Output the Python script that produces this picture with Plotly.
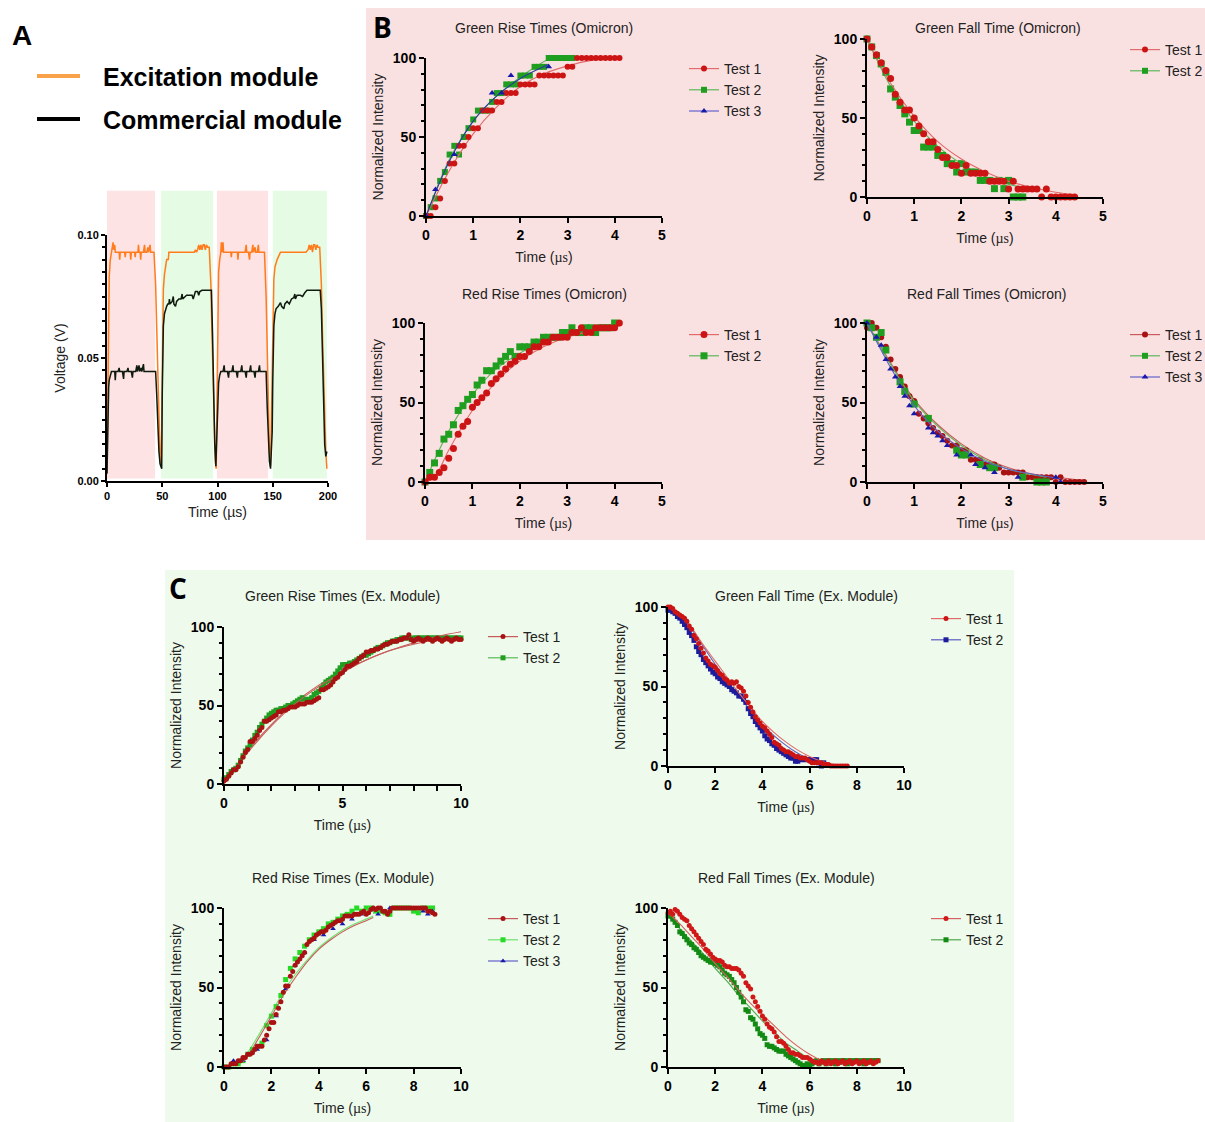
import plotly.graph_objects as go

W, H = 1205, 1122

# ---------------- Panel A : voltage traces (time in µs, voltage in V) ----------------
exc_points = [
    (0, 0.003), (0.5, 0.03), (1, 0.055), (1.5, 0.072), (2, 0.083), (3, 0.09), (4, 0.093), (5, 0.094),
    (5.5, 0.097), (6, 0.094), (7, 0.096), (7.5, 0.093), (9, 0.093), (11, 0.093), (11.5, 0.090), (12, 0.093),
    (14, 0.093), (16, 0.093), (16.5, 0.091), (17, 0.093), (19, 0.093), (21, 0.093), (21.5, 0.090), (22, 0.093),
    (24, 0.093), (25, 0.093), (25.5, 0.091), (26, 0.093), (28, 0.093), (28.5, 0.096), (29, 0.093), (30, 0.093),
    (30.5, 0.090), (31, 0.093), (33, 0.093), (34, 0.096), (34.5, 0.093), (36, 0.093), (37, 0.095), (37.5, 0.093),
    (39, 0.096), (39.5, 0.093), (41, 0.093), (42.5, 0.093), (44, 0.08), (45, 0.06), (46, 0.04), (47, 0.02),
    (48, 0.009), (49, 0.006),
    (49.5, 0.03), (50, 0.055), (50.5, 0.07), (51, 0.078), (52, 0.084), (53, 0.088), (54, 0.09), (55.5, 0.09),
    (56, 0.093), (58, 0.093), (60, 0.093), (63, 0.093), (66, 0.093), (70, 0.093), (73, 0.093), (76, 0.093),
    (79, 0.093), (80, 0.094), (81, 0.093), (82, 0.094), (83, 0.096), (84, 0.094), (85, 0.096), (86, 0.094),
    (87, 0.096), (88, 0.096), (89, 0.094), (90, 0.096), (91, 0.095), (92.5, 0.095), (94, 0.08), (95, 0.06),
    (96, 0.04), (97, 0.02), (98, 0.008), (98.8, 0.005),
    (99.3, 0.03), (100, 0.06), (100.5, 0.075), (101, 0.085), (102, 0.09), (103, 0.093), (103.5, 0.097),
    (104, 0.093), (105, 0.097), (105.5, 0.093), (108, 0.093), (110, 0.093), (112, 0.093), (112.5, 0.091),
    (113, 0.093), (116, 0.093), (118, 0.093), (118.5, 0.090), (119, 0.093), (122, 0.093), (125, 0.093),
    (126, 0.096), (126.5, 0.093), (128, 0.093), (129, 0.090), (129.5, 0.093), (131, 0.093), (132, 0.096),
    (132.5, 0.093), (134, 0.095), (134.5, 0.093), (136, 0.093), (137, 0.096), (137.5, 0.093), (140, 0.093),
    (142.5, 0.093), (144, 0.075), (145, 0.05), (146, 0.03), (147, 0.012), (148, 0.006),
    (149, 0.03), (150, 0.06), (150.5, 0.075), (151, 0.082), (152, 0.087), (153, 0.089), (154, 0.09),
    (156, 0.092), (157, 0.093), (160, 0.093), (164, 0.093), (168, 0.093), (172, 0.093), (176, 0.093),
    (180, 0.093), (182, 0.094), (183, 0.096), (184, 0.094), (185, 0.096), (186, 0.093), (187, 0.096),
    (188, 0.096), (189, 0.094), (190, 0.096), (191, 0.095), (192.5, 0.095), (194, 0.08), (195, 0.06),
    (196, 0.04), (197, 0.025), (198, 0.012), (199, 0.005),
]
com_points = [
    (0, 0.003), (0.5, 0.02), (1, 0.032), (1.5, 0.038), (2, 0.041), (3, 0.043), (4, 0.0445), (6, 0.0445),
    (7, 0.0445), (7.5, 0.041), (8, 0.0445), (10, 0.0445), (11, 0.046), (11.5, 0.0445), (14, 0.0445),
    (15, 0.0415), (15.5, 0.0445), (18, 0.0445), (19, 0.046), (19.5, 0.0445), (22, 0.0445), (23, 0.042),
    (23.5, 0.0445), (26, 0.0445), (27, 0.047), (27.5, 0.0445), (29, 0.047), (29.5, 0.0445), (31, 0.046),
    (31.5, 0.0445), (33, 0.0475), (33.5, 0.0445), (36, 0.0445), (38, 0.0445), (40, 0.0445), (42, 0.0445),
    (44, 0.0445), (45, 0.035), (46, 0.022), (47, 0.012), (48, 0.007), (49.5, 0.005),
    (50, 0.035), (50.5, 0.055), (51, 0.063), (52, 0.068), (53, 0.070), (54, 0.071), (55, 0.072), (56, 0.072),
    (56.5, 0.074), (57, 0.072), (59, 0.073), (60, 0.075), (60.5, 0.072), (62, 0.071), (63, 0.073), (65, 0.074),
    (67, 0.074), (68, 0.076), (68.5, 0.074), (70, 0.0745), (72, 0.0755), (75, 0.0755), (77, 0.0755),
    (78, 0.074), (79, 0.0755), (80, 0.077), (82, 0.077), (83, 0.0755), (84, 0.077), (86, 0.0775),
    (88, 0.0775), (90, 0.0775), (92, 0.0775), (94.5, 0.0775), (95.5, 0.06), (96.5, 0.035), (97.5, 0.015),
    (98.5, 0.006),
    (99.5, 0.02), (100, 0.032), (101, 0.04), (102, 0.043), (103, 0.0445), (105, 0.0445), (106, 0.047),
    (106.5, 0.0445), (109, 0.0445), (110, 0.042), (110.5, 0.0445), (113, 0.0445), (114, 0.047),
    (114.5, 0.0445), (117, 0.0445), (118, 0.042), (118.5, 0.0445), (121, 0.0445), (122, 0.047),
    (122.5, 0.0445), (125, 0.0445), (126, 0.042), (126.5, 0.0445), (129, 0.0445), (130, 0.047),
    (130.5, 0.0445), (133, 0.0445), (134, 0.042), (134.5, 0.0445), (137, 0.0445), (138, 0.047),
    (138.5, 0.0445), (141, 0.0445), (144, 0.0445), (145, 0.03), (146, 0.015), (147, 0.008), (148, 0.005),
    (149.5, 0.02), (150, 0.04), (150.5, 0.055), (151, 0.063), (152, 0.068), (153, 0.070), (155, 0.071),
    (157, 0.0725), (158, 0.071), (160, 0.070), (161, 0.072), (163, 0.073), (165, 0.072), (167, 0.074),
    (169, 0.0745), (170, 0.076), (170.5, 0.074), (172, 0.0755), (175, 0.0755), (177, 0.075), (179, 0.0765),
    (181, 0.0775), (183, 0.0775), (185, 0.0775), (187, 0.0775), (189, 0.0775), (191, 0.0775), (193, 0.0775),
    (194, 0.07), (195, 0.05), (196, 0.03), (197, 0.015), (198, 0.01), (199, 0.012),
]
band_start = [-2, 49, 99.5, 150]
band_end = [43.5, 96, 145.7, 199]
band_colour = ["#fde3e3", "#e6fbe4", "#fde3e3", "#e6fbe4"]
band_top_v = 0.118

# ---------------- Panel B : Omicron (time in µs, normalized intensity) ----------------
STEP = 0.1
b1_t1 = [0, 0, 5.6, 11.1, 22.2, 33.3, 33.3, 44.4, 44.4, 50, 55.6, 55.6, 66.7, 66.7, 66.7, 72.2, 72.2,
         77.8, 77.8, 77.8, 83.3, 83.3, 83.3, 83.3, 88.9, 88.9, 88.9, 88.9, 88.9, 88.9, 94.4, 94.4,
         100, 100, 100, 100, 100, 100, 100, 100, 100, 100]
b1_t2 = [0, 5.6, 11.1, 22.2, 27.8, 38.9, 44.4, 38.9, 50, 55.6, 61.1, 66.7, 66.7, 66.7, 72.2, 77.8, 77.8,
         83.3, 83.3, 83.3, 88.9, 88.9, 88.9, 94.4, 94.4, 94.4, 100, 100, 100, 100, 100, 100]
b1_t3_x = [0, 0.2, 0.6, 1.4, 1.6, 1.8, 2.6]
b1_t3_y = [0, 16.7, 38.9, 77.8, 77.8, 88.9, 94.4]
b1_fit1_x = [0, 0.5, 1.0, 1.5, 2.0, 2.5, 3.0, 3.5, 4.1]
b1_fit1_y = [0, 29, 52, 69, 82, 90, 95, 98.5, 100]
b1_fit2_x = [0, 0.5, 1.0, 1.5, 2.0, 2.3, 2.6, 3.1]
b1_fit2_y = [0, 36, 60, 76, 88, 94, 99, 100]
b1_fit3_x = [0, 0.5, 1.0, 1.5, 2.0, 2.6]
b1_fit3_y = [0, 35, 60, 76, 87, 96]

b2_t1 = [100, 95, 90, 85, 80, 75, 65, 60, 55, 55, 50, 45, 40, 35, 35, 30, 25, 25, 20, 20, 15, 20, 15, 15,
         15, 15, 10, 10, 10, 10, 5, 10, 5, 5, 5, 5, 5, 0, 5, 0, 0, 0, 0, 0, 0]
b2_t2 = [100, 95, 89.5, 84.2, 78.9, 68.4, 63.2, 57.9, 52.6, 47.4, 42.1, 42.1, 31.6, 31.6, 31.6, 26.3, 26.3,
         21.1, 21.1, 15.8, 21.1, 15.8, 15.8, 15.8, 10.5, 10.5, 10.5, 5.3, 10.5, 5.3, 10.5, 0, 0, 0]
b2_fit1_x = [0, 0.5, 1.0, 1.5, 2.0, 2.5, 3.0, 3.5, 4.0, 4.4]
b2_fit1_y = [100, 72, 51, 35, 24, 16, 10, 6, 3, 1.5]
b2_fit2_x = [0, 0.5, 1.0, 1.5, 2.0, 2.5, 3.0, 3.3]
b2_fit2_y = [100, 70, 48, 32, 21, 13, 8, 6]

b3_t1 = [0, 3, 3, 6, 9, 15, 21, 30, 35, 38, 47, 50, 53, 56, 62, 65, 68, 71, 74, 76, 79, 79, 82, 85, 85, 88,
         88, 91, 91, 91, 91, 94, 94, 97, 94, 94, 97, 97, 97, 97, 97, 100]
b3_t2 = [0, 6, 12, 18, 27, 30, 36, 45, 48, 52, 55, 61, 64, 70, 70, 73, 76, 79, 82, 79, 85, 85, 85, 88, 88,
         91, 91, 91, 91, 94, 94, 97, 94, 94, 97, 97, 94, 97, 97, 97, 100]
b3_fit1_x = [0, 0.2, 0.5, 1.0, 1.5, 2.0, 2.5, 3.0, 3.5, 4.1]
b3_fit1_y = [0, 3, 20, 45, 63, 76, 85, 91, 95, 98]
b3_fit2_x = [0, 0.5, 1.0, 1.5, 2.0, 2.5, 3.0, 3.5, 4.0]
b3_fit2_y = [0, 32, 55, 71, 81, 88, 93, 96, 98]

b4_t1 = [97, 100, 97, 91, 85, 77, 71, 66, 60, 54, 51, 43, 40, 37, 34, 31, 29, 26, 23, 23, 20, 20, 14, 14, 14,
         11, 11, 11, 9, 6, 6, 6, 6, 6, 3, 3, 3, 3, 3, 3, 0, 3, 0, 0, 0, 0, 0]
b4_t2_x = [0, 0.1, 0.2, 0.3, 0.4, 0.7, 0.8, 1.0, 1.3, 1.9, 2.0, 2.1, 2.4, 2.6, 2.7, 3.3, 3.6, 3.7, 3.8]
b4_t2_y = [100, 97, 91, 94, 83, 63, 57, 49, 40, 20, 17, 17, 11, 9, 9, 3, 0, 0, 0]
b4_t3_x = [0, 0.2, 0.3, 0.4, 0.5, 0.6, 0.7, 0.8, 0.9, 1.0, 1.3, 1.4, 1.5, 1.6, 1.7, 1.9, 2.2, 2.3, 2.5,
           2.7, 3.2, 4.0, 4.1]
b4_t3_y = [100, 91, 86, 77, 71, 66, 60, 54, 48, 43, 34, 31, 29, 26, 23, 17, 17, 11, 9, 6, 3, 3, 0]
b4_fit1_x = [0, 0.5, 1.0, 1.5, 2.0, 2.5, 3.0, 3.5, 4.0, 4.6]
b4_fit1_y = [100, 75, 52, 36, 24, 15, 9, 5, 3, 1]
b4_fit2_x = [0, 0.5, 1.0, 1.5, 2.0, 2.5, 3.0, 3.8]
b4_fit2_y = [100, 74, 51, 35, 23, 14, 8, 3]
b4_fit3_x = [0, 0.5, 1.0, 1.5, 2.0, 2.5, 3.0, 3.5, 4.1]
b4_fit3_y = [100, 72, 48, 32, 21, 13, 8, 5, 2]

# ---------------- Panel C : Excitation module ----------------
c1_t1 = [2, 3, 5, 7, 9, 9, 11, 14, 17, 20, 22, 27, 27, 29, 31, 34, 36, 40, 40, 41,
         42, 43, 44, 46, 46, 47, 47, 48, 49, 49, 49, 50, 51, 51, 51, 52, 52, 52, 53, 54,
         55, 60, 60, 61, 62, 63, 65, 67, 68, 70, 71, 73, 75, 75, 76, 77, 78, 80, 81, 82,
         84, 84, 85, 85, 86, 86, 87, 88, 89, 89, 90, 91, 91, 91, 92, 92, 93, 93, 95, 92,
         91, 92, 93, 92, 91, 92, 93, 92, 91, 92, 93, 92, 91, 92, 93, 92, 91, 92, 93, 92, 92]
c1_t2 = [3, 4, 6, 8, 9, 10, 12, 15, 18, 21, 23, 25, 28, 31, 33, 36, 38, 40, 42, 44,
         45, 46, 47, 47, 48, 48, 49, 50, 50, 51, 52, 53, 54, 55, 54, 53, 54, 55, 57, 58,
         59, 61, 63, 65, 66, 67, 68, 70, 72, 74, 76, 76, 76, 77, 77, 78, 79, 80, 81, 82,
         82, 83, 84, 85, 86, 87, 87, 88, 89, 90, 90, 91, 91, 92, 92, 93, 93, 93, 93, 92,
         93, 93, 93, 93, 93, 93, 93, 93, 93, 93, 93, 93, 93, 93, 93, 93, 93, 93, 93, 93, 93]
c1_fit1_x = [0, 1, 2, 3, 4, 5, 6, 7, 8, 9, 10]
c1_fit1_y = [0, 20, 37, 51, 62, 71, 79, 85, 90, 94, 97]
c1_fit2_x = [0, 1, 2, 3, 4, 5, 6, 7, 8, 9, 10]
c1_fit2_y = [0, 21, 38, 52, 63, 72, 79, 85, 89, 92, 94]

c2_t1 = [100, 100, 99, 97, 96, 95, 94, 93, 91, 88, 86, 82, 80, 77, 74, 71, 68, 66, 64, 63,
         62, 60, 58, 57, 55, 54, 52, 53, 52, 53, 50, 49, 47, 44, 40, 37, 34, 31, 29, 27,
         25, 24, 22, 20, 18, 15, 14, 13, 11, 10, 9, 9, 8, 7, 6, 6, 5, 5, 5, 4,
         3, 2, 2, 2, 2, 2, 1, 1, 1, 0, 0, 0, 0, 0, 0, 0, 0]
c2_t2 = [98, 98, 97, 96, 94, 93, 91, 89, 87, 84, 82, 79, 75, 72, 70, 67, 65, 63, 61, 59,
         58, 56, 55, 53, 52, 51, 50, 48, 47, 46, 44, 44, 42, 40, 36, 33, 31, 28, 26, 24,
         22, 19, 17, 16, 14, 13, 11, 10, 9, 8, 7, 6, 5, 5, 3, 3, 4, 4, 4, 4,
         4, 4, 4, 4, 2, 0, 2]
c2_fit1_x = [0, 0.5, 1, 1.5, 2, 2.5, 3, 3.5, 4, 4.5, 5, 5.5, 6, 6.5, 7, 7.6]
c2_fit1_y = [100, 96, 87, 76, 66, 56, 46, 37, 28, 21, 15, 10, 6, 3, 1, 0]
c2_fit2_x = [0, 0.5, 1, 1.5, 2, 2.5, 3, 3.5, 4, 4.5, 5, 5.5, 6, 6.6]
c2_fit2_y = [99, 95, 86, 75, 64, 54, 44, 35, 26, 19, 13, 8, 4, 1]

c3_t1 = [0, 0, 0, 2, 2, 2, 4, 4, 6, 6, 8, 8, 9, 11, 13, 13, 13, 17, 20, 24,
         28, 28, 33, 37, 41, 47, 51, 51, 57, 60, 64, 66, 68, 70, 72, 77, 79, 80, 81, 83,
         84, 85, 85, 86, 88, 89, 90, 91, 92, 92, 93, 95, 95, 95, 95, 96, 96, 96, 97, 98,
         96, 97, 99, 100, 99, 100, 100, 98, 98, 96, 98, 100, 100, 100, 100, 100, 100, 100, 100, 100,
         100, 100, 100, 100, 100, 100, 98, 98, 97, 96]
c3_t2_x = [0, 0.2, 0.4, 0.6, 0.8, 1.0, 1.2, 1.4, 1.6, 1.8, 2.0, 2.2, 2.4, 2.6, 2.8, 3.0, 3.2, 3.4, 3.6, 3.8,
           4.0, 4.2, 4.4, 4.6, 4.8, 5.0, 5.2, 5.4, 5.6, 5.8, 6.0, 6.2, 6.4, 6.6, 6.8, 7.0, 7.2, 7.4, 7.6,
           7.8, 8.0, 8.2, 8.4, 8.6, 8.8]
c3_t2_y = [0, 0, 2, 2, 4, 8, 11, 13, 15, 26, 32, 38, 45, 55, 62, 68, 72, 76, 80, 83,
           85, 87, 90, 91, 93, 95, 96, 98, 100, 98, 100, 100, 98, 98, 97, 96, 100, 100, 100,
           100, 98, 97, 100, 100, 100]
c3_t3_x = [0, 0.4, 0.8, 1.4, 1.8, 2.2, 2.6, 3.0, 3.4, 3.8, 4.2, 4.6, 5.0, 5.4, 5.8, 6.5, 7.0, 8.4, 8.6, 8.8]
c3_t3_y = [0, 4, 4, 11, 17, 32, 49, 64, 72, 80, 83, 87, 90, 93, 96, 96, 100, 98, 96, 98]
c3_fit1_x = [0.8, 1, 1.5, 2, 2.5, 3, 3.5, 4, 4.5, 5, 5.5, 6, 6.3]
c3_fit1_y = [3, 7, 19, 32, 45, 56, 66, 74, 80, 85, 89, 92, 94]
c3_fit2_x = [0.75, 1, 1.5, 2, 2.5, 3, 3.5, 4, 4.5, 5, 5.5, 6, 6.3]
c3_fit2_y = [4, 9, 21, 34, 47, 58, 67, 75, 81, 86, 90, 93, 95]

c4_t1 = [97, 98, 96, 99, 98, 96, 94, 93, 92, 89, 87, 85, 83, 81, 79, 77, 74, 73, 71, 69,
         68, 67, 67, 66, 64, 63, 63, 62, 62, 62, 61, 59, 57, 53, 51, 49, 44, 41, 38, 35,
         32, 30, 27, 25, 24, 22, 19, 16, 16, 15, 13, 11, 9, 9, 8, 8, 7, 6, 6, 6,
         5, 4, 3, 3, 2, 4, 3, 2, 4, 2, 3, 4, 2, 3, 4, 2, 3, 4, 2, 3,
         4, 2, 3, 4, 2, 3, 4, 2, 3, 4]
c4_t2 = [95, 95, 93, 91, 89, 85, 84, 82, 80, 78, 77, 75, 74, 72, 70, 69, 68, 67, 66, 66,
         65, 64, 63, 61, 59, 58, 57, 55, 53, 50, 47, 44, 41, 36, 35, 31, 30, 27, 24, 21,
         20, 18, 14, 13, 13, 12, 11, 10, 10, 10, 8, 7, 6, 5, 4, 3, 2, 1, 1, 2,
         1, 2, 3, 4, 2, 3, 4, 2, 4, 3, 4, 2, 4, 3, 4, 4, 2, 4, 3, 4,
         4, 3, 4, 2, 4, 4, 3, 4, 4, 4]
c4_fit1_x = [0, 0.5, 1, 1.5, 2, 2.5, 3, 3.5, 4, 4.5, 5, 5.5, 6, 6.5, 6.9]
c4_fit1_y = [97, 90, 82, 74, 65, 57, 48, 40, 33, 26, 19, 13, 8, 4, 1.5]
c4_fit2_x = [0, 0.5, 1, 1.5, 2, 2.5, 3, 3.5, 4, 4.5, 5, 5.5, 6, 6.5]
c4_fit2_y = [95, 87, 79, 71, 62, 54, 45, 37, 29, 22, 15, 10, 5, 2]


def grid(values):
    return [round(i * STEP, 2) for i in range(len(values))]


# ---------------- helpers for layout ----------------
def xd(a, b):
    return [a / W, b / W]


def yd(top, bottom):
    return [1 - bottom / H, 1 - top / H]


SANS = "Liberation Sans"
fig = go.Figure()


def series(idx, legend, name, x, y, fx, fy, mcol, lcol, symbol, size):
    xa = "x" if idx == 1 else f"x{idx}"
    ya = "y" if idx == 1 else f"y{idx}"
    fig.add_trace(go.Scatter(x=fx, y=fy, mode="lines", line=dict(color=lcol, width=1.1, shape="spline"),
                             xaxis=xa, yaxis=ya, showlegend=False, hoverinfo="skip"))
    fig.add_trace(go.Scatter(x=x, y=y, mode="markers", marker=dict(color=mcol, size=size, symbol=symbol),
                             xaxis=xa, yaxis=ya, showlegend=False, cliponaxis=False, name=name))


def legend_entry(idx, legend, name, mcol, lcol, symbol, size):
    xa = f"x{idx}"
    ya = f"y{idx}"
    fig.add_trace(go.Scatter(x=[None], y=[None], mode="lines+markers", name=name,
                             line=dict(color=lcol, width=1.2),
                             marker=dict(color=mcol, size=size, symbol=symbol),
                             xaxis=xa, yaxis=ya, legend=legend, showlegend=True))


RED, RED_L = "#cc1414", "#e06a6a"
DRED, DRED_L = "#a81212", "#c85a5a"
GRN, GRN_L = "#1f9e1f", "#5cb85c"
BLU, BLU_L = "#1818aa", "#6262cc"
LIME, LIME_L = "#25dc25", "#6ee26e"
DGRN, DGRN_L = "#138a13", "#4fa84f"
NAVY, NAVY_L = "#1c1c9c", "#5c5cc0"

# ---------------- Panel A traces ----------------
fig.add_trace(go.Scatter(x=[p[0] for p in exc_points], y=[p[1] for p in exc_points], mode="lines",
                         line=dict(color="#ff7b1c", width=1.5), showlegend=False, xaxis="x", yaxis="y"))
fig.add_trace(go.Scatter(x=[p[0] for p in com_points], y=[p[1] for p in com_points], mode="lines",
                         line=dict(color="#0d1a0d", width=1.5), showlegend=False, xaxis="x", yaxis="y"))

# ---------------- Panel B traces ----------------
series(2, "legend2", "Test 2", grid(b1_t2), b1_t2, b1_fit2_x, b1_fit2_y, GRN, GRN_L, "square", 6)
series(2, "legend2", "Test 1", grid(b1_t1), b1_t1, b1_fit1_x, b1_fit1_y, RED, RED_L, "circle", 6)
series(2, "legend2", "Test 3", b1_t3_x, b1_t3_y, b1_fit3_x, b1_fit3_y, BLU, "#2a3a9a", "triangle-up", 6)
legend_entry(2, "legend2", "Test 1", RED, RED_L, "circle", 6)
legend_entry(2, "legend2", "Test 2", GRN, GRN_L, "square", 6)
legend_entry(2, "legend2", "Test 3", BLU, BLU_L, "triangle-up", 6)

series(3, "legend3", "Test 2", grid(b2_t2), b2_t2, b2_fit2_x, b2_fit2_y, GRN, GRN_L, "square", 7)
series(3, "legend3", "Test 1", grid(b2_t1), b2_t1, b2_fit1_x, b2_fit1_y, RED, RED_L, "circle", 7)
legend_entry(3, "legend3", "Test 1", RED, RED_L, "circle", 6)
legend_entry(3, "legend3", "Test 2", GRN, GRN_L, "square", 6)

series(4, "legend4", "Test 2", grid(b3_t2), b3_t2, b3_fit2_x, b3_fit2_y, GRN, GRN_L, "square", 7)
series(4, "legend4", "Test 1", grid(b3_t1), b3_t1, b3_fit1_x, b3_fit1_y, RED, RED_L, "circle", 7)
legend_entry(4, "legend4", "Test 1", RED, RED_L, "circle", 7)
legend_entry(4, "legend4", "Test 2", GRN, GRN_L, "square", 7)

series(5, "legend5", "Test 1", grid(b4_t1), b4_t1, b4_fit1_x, b4_fit1_y, DRED, DRED_L, "circle", 6)
series(5, "legend5", "Test 2", b4_t2_x, b4_t2_y, b4_fit2_x, b4_fit2_y, GRN, GRN_L, "square", 7)
series(5, "legend5", "Test 3", b4_t3_x, b4_t3_y, b4_fit3_x, b4_fit3_y, BLU, BLU_L, "triangle-up", 6)
legend_entry(5, "legend5", "Test 1", DRED, DRED_L, "circle", 6)
legend_entry(5, "legend5", "Test 2", GRN, GRN_L, "square", 6)
legend_entry(5, "legend5", "Test 3", BLU, BLU_L, "triangle-up", 6)

# ---------------- Panel C traces ----------------
series(6, "legend6", "Test 2", grid(c1_t2), c1_t2, c1_fit2_x, c1_fit2_y, GRN, DRED_L, "square", 5)
series(6, "legend6", "Test 1", grid(c1_t1), c1_t1, c1_fit1_x, c1_fit1_y, DRED, DRED_L, "circle", 5)
legend_entry(6, "legend6", "Test 1", DRED, DRED_L, "circle", 5)
legend_entry(6, "legend6", "Test 2", GRN, GRN_L, "square", 5)

series(7, "legend7", "Test 2", grid(c2_t2), c2_t2, c2_fit2_x, c2_fit2_y, NAVY, NAVY_L, "square", 5)
series(7, "legend7", "Test 1", grid(c2_t1), c2_t1, c2_fit1_x, c2_fit1_y, RED, RED_L, "circle", 5)
legend_entry(7, "legend7", "Test 1", RED, RED_L, "circle", 5)
legend_entry(7, "legend7", "Test 2", NAVY, NAVY_L, "square", 5)

series(8, "legend8", "Test 2", c3_t2_x, c3_t2_y, c3_fit2_x, c3_fit2_y, LIME, LIME_L, "square", 5)
series(8, "legend8", "Test 3", c3_t3_x, c3_t3_y, [], [], BLU, BLU_L, "triangle-up", 5)
series(8, "legend8", "Test 1", grid(c3_t1), c3_t1, c3_fit1_x, c3_fit1_y, DRED, DRED_L, "circle", 5)
legend_entry(8, "legend8", "Test 1", DRED, DRED_L, "circle", 5)
legend_entry(8, "legend8", "Test 2", LIME, LIME_L, "square", 5)
legend_entry(8, "legend8", "Test 3", BLU, BLU_L, "triangle-up", 5)

series(9, "legend9", "Test 2", grid(c4_t2), c4_t2, c4_fit2_x, c4_fit2_y, DGRN, DGRN_L, "square", 5)
series(9, "legend9", "Test 1", grid(c4_t1), c4_t1, c4_fit1_x, c4_fit1_y, "#d01818", "#d86060", "circle", 5)
legend_entry(9, "legend9", "Test 1", "#d01818", "#d86060", "circle", 5)
legend_entry(9, "legend9", "Test 2", DGRN, DGRN_L, "square", 5)

# ---------------- axes ----------------
tickfont = dict(family=SANS, size=14, color="black", weight="bold")
titlefont = dict(family=SANS, size=14, color="#222")
TIME_TITLE = 'Time (<span style="font-family:Liberation Serif">µs</span>)'


def axis_style(**kw):
    d = dict(showline=True, linecolor="black", linewidth=2, ticks="outside", ticklen=5, tickwidth=2,
             tickcolor="black", showgrid=False, zeroline=False, tickfont=tickfont, title_font=titlefont)
    d.update(kw)
    return d


small_tick = dict(family=SANS, size=11, color="black", weight="bold")
layout_axes = {}
# Panel A
layout_axes["xaxis"] = axis_style(domain=xd(107, 328), range=[0, 200], tickvals=[0, 50, 100, 150, 200],
                                  anchor="y", tickfont=small_tick,
                                  ticklen=4, title=dict(text="Time (µs)", standoff=6))
layout_axes["yaxis"] = axis_style(domain=yd(235, 481), range=[0, 0.1], tickvals=[0, 0.05, 0.1],
                                  tickformat=".2f", anchor="x", tickfont=small_tick,
                                  ticklen=4,
                                  minor=dict(ticks="outside", ticklen=3, tickwidth=1.5, tickcolor="black",
                                             dtick=0.005),
                                  title=dict(text="Voltage (V)", standoff=8))

# subplot definitions: idx -> (x0px, x1px, ytop, ybottom, xmax, xdtick, xminor)
subplots = {
    2: (426, 662, 58, 216, 5, 1, None),
    3: (867, 1103, 39, 197, 5, 1, None),
    4: (425, 662, 323, 482, 5, 1, None),
    5: (867, 1103, 323, 482, 5, 1, None),
    6: (224, 461, 627, 784, 10, 5, 1),
    7: (668, 904, 607, 766, 10, 2, None),
    8: (224, 461, 908, 1067, 10, 2, None),
    9: (668, 904, 908, 1067, 10, 2, None),
}
for i, (x0, x1, yt, yb, xmax, xdt, xmin) in subplots.items():
    xkw = dict(domain=xd(x0, x1), range=[0, xmax], dtick=xdt, tick0=0, anchor=f"y{i}",
               title=dict(text=TIME_TITLE, standoff=10))
    if xmin:
        xkw["minor"] = dict(ticks="outside", ticklen=5, tickwidth=2, tickcolor="black", dtick=xmin)
    layout_axes[f"xaxis{i}"] = axis_style(**xkw)
    layout_axes[f"yaxis{i}"] = axis_style(domain=yd(yt, yb), range=[0, 100], dtick=50, tick0=0,
                                          anchor=f"x{i}",
                                          minor=dict(ticks="outside", ticklen=3, tickwidth=1.5,
                                                     tickcolor="black", dtick=10),
                                          title=dict(text="Normalized Intensity", standoff=6))


# ---------------- legends ----------------
def legend_at(text_left, first_center):
    return dict(x=(text_left - 40) / W, y=1 - (first_center - 16) / H, xanchor="left", yanchor="top",
                bgcolor="rgba(0,0,0,0)", font=dict(family=SANS, size=14, color="#222"),
                itemclick=False, itemdoubleclick=False)


legends = {
    "legend2": legend_at(724, 69),
    "legend3": legend_at(1165, 50),
    "legend4": legend_at(724, 335),
    "legend5": legend_at(1165, 335),
    "legend6": legend_at(523, 637),
    "legend7": legend_at(966, 619),
    "legend8": legend_at(523, 919),
    "legend9": legend_at(966, 919),
}

# ---------------- shapes ----------------
shapes = [
    dict(type="rect", xref="paper", yref="paper", x0=366 / W, x1=1, y0=1 - 540 / H, y1=1 - 8 / H,
         fillcolor="#fae1e1", line=dict(width=0), layer="below"),
    dict(type="rect", xref="paper", yref="paper", x0=165 / W, x1=1014 / W, y0=0, y1=1 - 570 / H,
         fillcolor="#eefaeb", line=dict(width=0), layer="below"),
    dict(type="line", xref="paper", yref="paper", x0=37 / W, x1=80 / W, y0=1 - 76 / H, y1=1 - 76 / H,
         line=dict(color="#f9a24a", width=4)),
    dict(type="line", xref="paper", yref="paper", x0=37 / W, x1=80 / W, y0=1 - 119 / H, y1=1 - 119 / H,
         line=dict(color="black", width=4)),
]
for s, e, c in zip(band_start, band_end, band_colour):
    shapes.append(dict(type="rect", xref="x", yref="y domain", x0=s, x1=e, y0=0.01, y1=band_top_v / 0.1,
                       fillcolor=c, line=dict(width=0), layer="below"))


# ---------------- annotations ----------------
def ann(text, xpx, ypx, size=14, anchor="center", bold=False, family=SANS, color="#222"):
    return dict(text=text, x=xpx / W, y=1 - ypx / H, xref="paper", yref="paper", showarrow=False,
                xanchor=anchor, yanchor="middle",
                font=dict(family=family, size=size, color=color, weight="bold" if bold else "normal"))


annotations = [
    ann("A", 22, 35, size=28, bold=True, color="black"),
    ann("B", 382, 27, size=28, bold=True, family="Open Sans", color="black"),
    ann("C", 178, 588, size=28, bold=True, family="Open Sans", color="black"),
    ann("Excitation module", 101, 77, size=25, anchor="left", bold=True, color="black"),
    ann("Commercial module", 101, 120, size=25, anchor="left", bold=True, color="black"),
    ann("Green Rise Times (Omicron)", 544, 28),
    ann("Green Fall Time (Omicron)", 998, 28),
    ann("Red Rise Times (Omicron)", 544, 294),
    ann("Red Fall Times (Omicron)", 986, 294),
    ann("Green Rise Times (Ex. Module)", 342, 596),
    ann("Green Fall Time (Ex. Module)", 807, 596),
    ann("Red Rise Times (Ex. Module)", 343, 878),
    ann("Red Fall Times (Ex. Module)", 786, 878),
]

fig.update_layout(
    width=W, height=H, margin=dict(l=0, r=0, t=0, b=0, pad=0, autoexpand=False),
    paper_bgcolor="white", plot_bgcolor="rgba(0,0,0,0)",
    font=dict(family=SANS, size=14, color="#222"),
    shapes=shapes, annotations=annotations,
    **layout_axes, **legends,
)
fig.write_html(
    "out.html",
    config={"displayModeBar": False},
    post_script="document.documentElement.style.margin='0px';document.documentElement.style.padding='0px';"
                "document.documentElement.style.overflow='hidden';"
                "document.body.style.margin='0px';document.body.style.padding='0px';"
                "document.body.style.overflow='hidden';",
)
